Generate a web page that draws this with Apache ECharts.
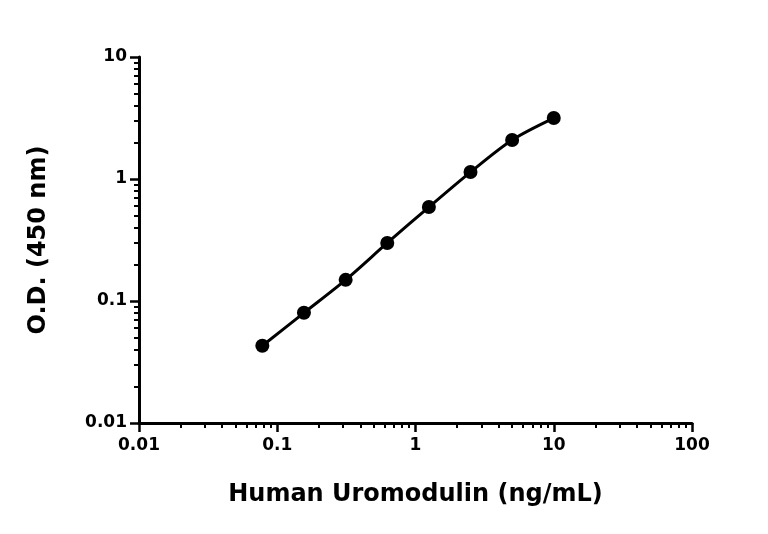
<!DOCTYPE html>
<html><head><meta charset="utf-8">
<script src="https://cdn.jsdelivr.net/npm/echarts@6/dist/echarts.min.js"></script>
<style>html,body{margin:0;padding:0;background:#fff}#c{width:768px;height:534px}</style>
</head><body><div id="c"></div>
<script>
const concentrations = [0.078, 0.156, 0.3125, 0.625, 1.25, 2.5, 5, 10];
const odValues = [0.043, 0.080, 0.149, 0.299, 0.589, 1.14, 2.09, 3.16];
const xTitle = 'Human Uromodulin (ng/mL)';
const yTitle = 'O.D. (450 nm)';
const fmt = v => { const m = {0.01:'0.01',0.1:'0.1',1:'1',10:'10',100:'100'}; return m[+v.toPrecision(3)] ?? ''; };
const data = concentrations.map((c,i)=>[c, odValues[i]]);
const chart = echarts.init(document.getElementById('c'));
const font = {fontFamily:'DejaVu Sans', fontWeight:'bold', color:'#000'};
const axisCommon = {
  type:'log', logBase:10,
  axisLine:{show:true, lineStyle:{color:'#000', width:3}},
  axisTick:{show:true, length:9, lineStyle:{color:'#000', width:2.5}},
  minorTick:{show:true, splitNumber:9, length:5, lineStyle:{color:'#000', width:2}},
  splitLine:{show:false},
  axisLabel:Object.assign({fontSize:17, formatter:fmt}, font),
  nameLocation:'middle',
  nameTextStyle:Object.assign({fontSize:24}, font)
};
chart.setOption({
  animation:false,
  grid:{left:139, right:76, top:57, bottom:111},
  xAxis:Object.assign({}, axisCommon, {min:0.01, max:100, name:xTitle, nameGap:60,
    axisLabel:Object.assign({}, axisCommon.axisLabel, {margin:14})}),
  yAxis:Object.assign({}, axisCommon, {min:0.01, max:10, name:yTitle, nameGap:88,
    axisLabel:Object.assign({}, axisCommon.axisLabel, {margin:12})}),
  series:[{type:'line', data, smooth:0.3, symbol:'circle', symbolSize:14,
    lineStyle:{color:'#000', width:3}, itemStyle:{color:'#000'}}]
});
</script></body></html>
